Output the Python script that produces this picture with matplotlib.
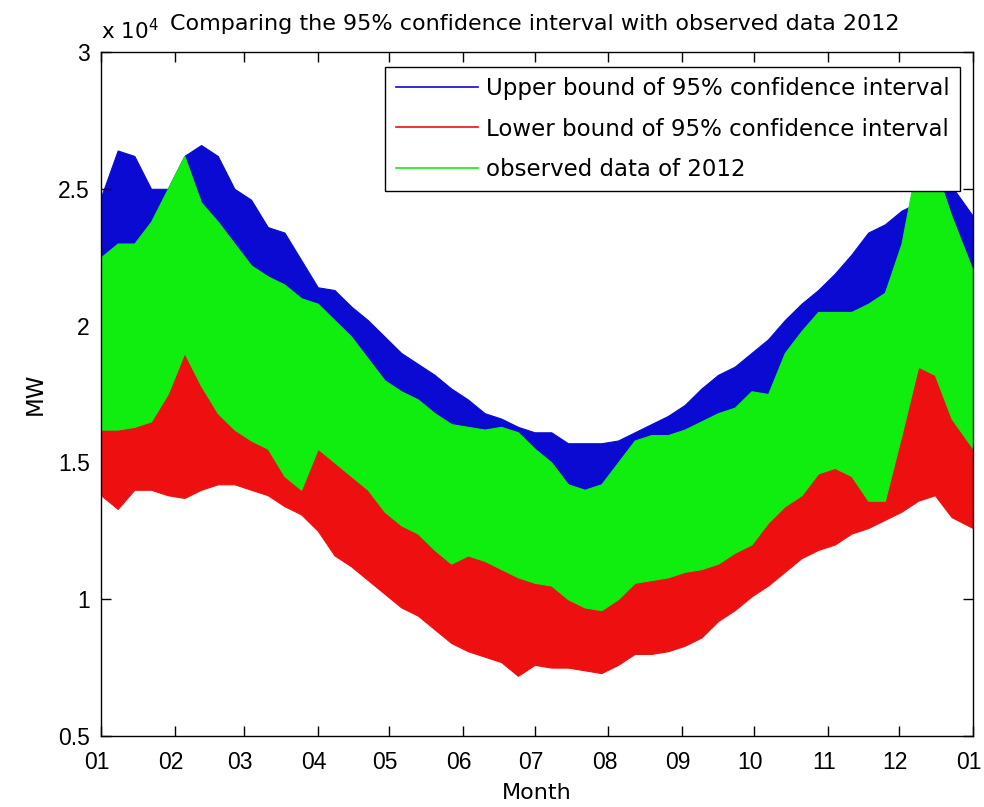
import numpy as np
import matplotlib
matplotlib.use('Agg')
import matplotlib.pyplot as plt
import matplotlib.dates as mdates
import matplotlib.transforms as mtransforms
from matplotlib.ticker import FuncFormatter

plt.rcParams['font.family'] = ['DejaVu Sans']
plt.rcParams['mathtext.fontset'] = 'dejavusans'

# weekly envelope of the hourly load (MW), day of year 2012
day_of_year = list(range(0, 358, 7)) + [366]

upper_hi = [24700, 26400, 26200, 25000, 25000, 26200, 26600, 26200, 25000, 24600,
            23600, 23400, 22400, 21400, 21300, 20700, 20200, 19600, 19000, 18600,
            18200, 17700, 17300, 16800, 16600, 16300, 16100, 16100, 15700, 15700,
            15700, 15800, 16100, 16400, 16700, 17100, 17700, 18200, 18500, 19000,
            19500, 20200, 20800, 21300, 21900, 22600, 23400, 23700, 24200, 24500,
            24800, 25100, 24000]
upper_lo = [21000, 21500, 21500, 22000, 23000, 24000, 23000, 22000, 21500, 20700,
            20300, 20000, 19500, 19300, 18700, 18100, 17300, 16500, 16100, 15800,
            15300, 14900, 14800, 14700, 14800, 14600, 14000, 13500, 12900, 12700,
            12900, 13500, 14300, 14500, 14500, 14700, 15000, 15300, 15500, 16100,
            16000, 17500, 18300, 19000, 19000, 19000, 19300, 19700, 21000, 23500,
            23000, 22000, 20500]

lower_hi = [16600, 16600, 16800, 17000, 18000, 19300, 18300, 17300, 16700, 16300,
            16000, 15000, 14600, 16000, 15400, 14900, 14400, 13600, 13100, 12800,
            12200, 11700, 12000, 11800, 11500, 11200, 11000, 10900, 10400, 10100,
            10000, 10400, 11000, 11100, 11200, 11400, 11500, 11700, 12100, 12400,
            13200, 13800, 14200, 15000, 15200, 14900, 14000, 14000, 16400, 18900,
            18600, 17000, 15900]
lower_lo = [13800, 13300, 14000, 14000, 13800, 13700, 14000, 14200, 14200, 14000,
            13800, 13400, 13100, 12500, 11600, 11200, 10700, 10200, 9700, 9400,
            8900, 8400, 8100, 7900, 7700, 7200, 7600, 7500, 7500, 7400,
            7300, 7600, 8000, 8000, 8100, 8300, 8600, 9200, 9600, 10100,
            10500, 11000, 11500, 11800, 12000, 12400, 12600, 12900, 13200, 13600,
            13800, 13000, 12600]

observed_hi = [22500, 23000, 23000, 23800, 25000, 26200, 24500, 23800, 23000, 22200,
               21800, 21500, 21000, 20800, 20200, 19600, 18800, 18000, 17600, 17300,
               16800, 16400, 16300, 16200, 16300, 16100, 15500, 15000, 14200, 14000,
               14200, 15000, 15800, 16000, 16000, 16200, 16500, 16800, 17000, 17600,
               17500, 19000, 19800, 20500, 20500, 20500, 20800, 21200, 23000, 26200,
               25800, 24000, 22000]
observed_lo = [16200, 16200, 16300, 16500, 17500, 19000, 17800, 16800, 16200, 15800,
               15500, 14500, 14000, 15500, 15000, 14500, 14000, 13200, 12700, 12400,
               11800, 11300, 11600, 11400, 11100, 10800, 10600, 10500, 10000, 9700,
               9600, 10000, 10600, 10700, 10800, 11000, 11100, 11300, 11700, 12000,
               12800, 13400, 13800, 14600, 14800, 14500, 13600, 13600, 16000, 18500,
               18200, 16600, 15500]

labels = ['Upper bound of 95% confidence interval',
          'Lower bound of 95% confidence interval',
          'observed data of 2012']
colors = ['#0a0ad2', '#ee1010', '#10ee10']

dates = np.datetime64('2012-01-01') + np.array(day_of_year).astype('timedelta64[D]')

fig = plt.figure(figsize=(9.84, 8.07), dpi=100)
fig.set_facecolor('white')
ax = fig.add_axes([101 / 984, 1 - 736 / 807, 872 / 984, 684 / 807])

series = [(upper_hi, upper_lo), (lower_hi, lower_lo), (observed_hi, observed_lo)]
handles = []
for i, ((hi, lo), color, label) in enumerate(zip(series, colors, labels)):
    ax.fill_between(dates, lo, hi, color=color, linewidth=0.8, edgecolor=color,
                    zorder=1 + i)
    h, = ax.plot([], [], color=color, linewidth=1.2, label=label)
    handles.append(h)

ax.set_xlim(np.datetime64('2012-01-01'), np.datetime64('2013-01-01'))
ax.set_ylim(5000, 30000)
ax.xaxis.set_major_locator(mdates.MonthLocator())
ax.xaxis.set_major_formatter(mdates.DateFormatter('%m'))
ax.set_yticks(np.arange(5000, 30001, 5000))
ax.yaxis.set_major_formatter(FuncFormatter(lambda v, p: f'{v / 1e4:g}'))

ax.tick_params(direction='in', length=7, width=1, top=True, right=True,
               colors='black')
ax.tick_params(axis='x', pad=11)
ax.tick_params(axis='y', pad=8)
# month labels sit a few pixels left of their ticks
shift = mtransforms.ScaledTranslation(-4 / 100, 0, fig.dpi_scale_trans)
for lab in ax.get_xticklabels():
    lab.set_transform(lab.get_transform() + shift)
for lab in ax.get_xticklabels() + ax.get_yticklabels():
    lab.set_fontfamily('Liberation Sans')
    lab.set_fontsize(16.5)
for s in ax.spines.values():
    s.set_linewidth(1)
    s.set_zorder(10)

ax.set_xlabel('Month', fontsize=16, labelpad=6)
ax.set_ylabel('MW', fontsize=16.5, labelpad=8)
ax.set_title('Comparing the 95% confidence interval with observed data 2012',
             fontsize=16, pad=16, x=0.497)
ax.text(0.0, 1.013, r'x 10$^4$', transform=ax.transAxes, fontsize=15.5,
        ha='left', va='bottom')

leg = ax.legend(handles=handles, loc='upper right',
                bbox_to_anchor=(960 / 984, 1 - 67 / 807),
                bbox_transform=fig.transFigure, borderaxespad=0, fontsize=16.5,
                fancybox=False, framealpha=1, edgecolor='black',
                handlelength=3.6, handletextpad=0.35, labelspacing=0.75,
                borderpad=0.45)
leg.get_frame().set_linewidth(1)
leg.set_zorder(20)

fig.savefig('out.png', dpi=100)
